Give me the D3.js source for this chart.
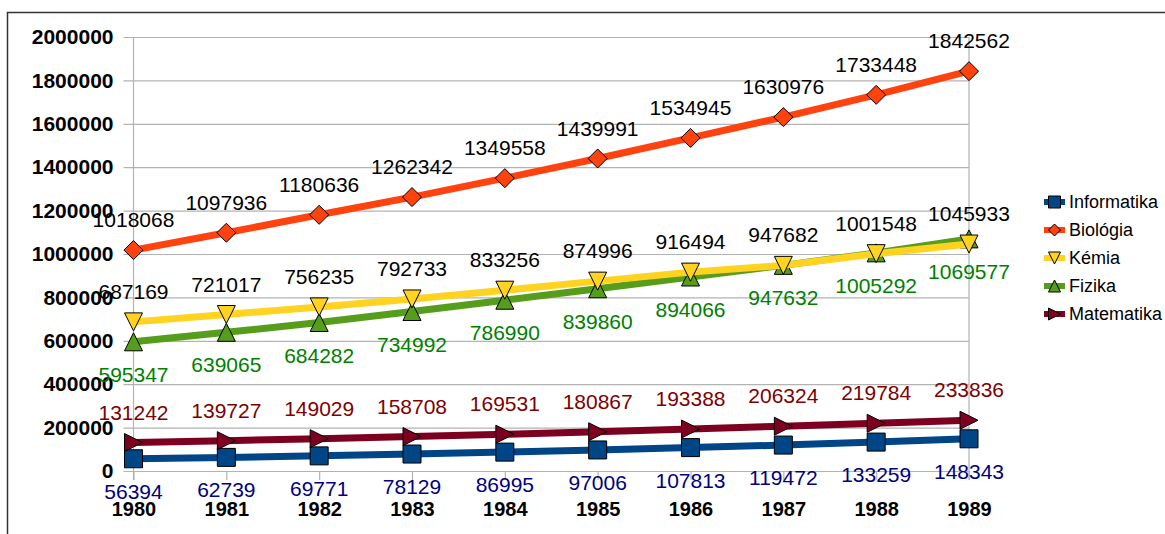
<!DOCTYPE html>
<html>
<head>
<meta charset="utf-8">
<script src="https://cdn.jsdelivr.net/npm/d3@7"></script>
<style>
  body { margin: 0; background: #fff; }
  svg { display: block; font-family: "Liberation Sans", Arial, sans-serif; }
</style>
</head>
<body>
<div id="chart"></div>
<script>
// data
var years = ["1980", "1981", "1982", "1983", "1984", "1985", "1986", "1987", "1988", "1989"];
var informatika = [56394, 62739, 69771, 78129, 86995, 97006, 107813, 119472, 133259, 148343];
var biologia = [1018068, 1097936, 1180636, 1262342, 1349558, 1439991, 1534945, 1630976, 1733448, 1842562];
var kemia = [687169, 721017, 756235, 792733, 833256, 874996, 916494, 947682, 1001548, 1045933];
var fizika = [595347, 639065, 684282, 734992, 786990, 839860, 894066, 947632, 1005292, 1069577];
var matematika = [131242, 139727, 149029, 158708, 169531, 180867, 193388, 206324, 219784, 233836];
var yTicks = [0, 200000, 400000, 600000, 800000, 1000000, 1200000, 1400000, 1600000, 1800000, 2000000];

var series = [
  { name: "Informatika", values: informatika, color: "#004586", marker: "square", labelColor: "#000080", labelPos: "below" },
  { name: "Biológia", values: biologia, color: "#ff420e", marker: "diamond", labelColor: "#000000", labelPos: "above" },
  { name: "Kémia", values: kemia, color: "#ffd320", marker: "down", labelColor: "#000000", labelPos: "above" },
  { name: "Fizika", values: fizika, color: "#579d1c", marker: "up", labelColor: "#008000", labelPos: "below" },
  { name: "Matematika", values: matematika, color: "#7e0021", marker: "right", labelColor: "#800000", labelPos: "above" }
];
// drawing order (yellow sits on top of green in the original)
var drawOrder = [0, 1, 3, 2, 4];

var W = 1165, H = 534;
var plot = { left: 133.5, right: 969, top: 37, bottom: 471 };

var svg = d3.select("#chart").append("svg")
  .attr("width", W)
  .attr("height", H);

// outer frame (only top and left edges visible)
svg.append("path")
  .attr("d", "M7.5," + H + "V12.5H" + W)
  .attr("fill", "none")
  .attr("stroke", "#333")
  .attr("stroke-width", 1.5);

var x = d3.scalePoint()
  .domain(years)
  .range([plot.left, plot.right]);

var y = d3.scaleLinear()
  .domain([0, 2000000])
  .range([plot.bottom, plot.top]);

// horizontal grid + y axis
var yAxis = d3.axisLeft(y)
  .tickValues(yTicks)
  .tickSize(-(plot.right - plot.left))
  .tickPadding(20)
  .tickFormat(d3.format("d"));

var gy = svg.append("g")
  .attr("transform", "translate(" + plot.left + ",0)")
  .call(yAxis);
gy.select(".domain").remove();
gy.selectAll(".tick line")
  .attr("x1", -10)
  .attr("stroke", "#b3b3b3")
  .attr("stroke-width", 1.2);
gy.selectAll(".tick text")
  .attr("x", -20)
  .attr("font-size", 21)
  .attr("font-weight", "bold")
  .attr("fill", "#000")
  .attr("font-family", "Liberation Sans, Arial, sans-serif");

// x axis ticks + labels
var xAxis = d3.axisBottom(x).tickSize(9).tickPadding(22);
var gx = svg.append("g")
  .attr("transform", "translate(0," + plot.bottom + ")")
  .call(xAxis);
gx.select(".domain").remove();
gx.selectAll(".tick line")
  .attr("stroke", "#b3b3b3")
  .attr("stroke-width", 1.2);
gx.selectAll(".tick text")
  .attr("dy", "0.68em")
  .attr("font-size", 20)
  .attr("font-weight", "bold")
  .attr("fill", "#000")
  .attr("font-family", "Liberation Sans, Arial, sans-serif");

// left axis line and right border of plot area
svg.append("line")
  .attr("x1", plot.left).attr("x2", plot.left)
  .attr("y1", plot.top).attr("y2", plot.bottom + 9)
  .attr("stroke", "#b3b3b3").attr("stroke-width", 1.2);
svg.append("line")
  .attr("x1", plot.right).attr("x2", plot.right)
  .attr("y1", plot.top).attr("y2", plot.bottom + 9)
  .attr("stroke", "#b3b3b3").attr("stroke-width", 1.2);

// marker shapes
function markerPath(type, s) {
  var h = s / 2;
  if (type === "square") return "M" + (-h) + "," + (-h) + "h" + s + "v" + s + "h" + (-s) + "Z";
  if (type === "diamond") return "M0," + (-h) + "L" + h + ",0L0," + h + "L" + (-h) + ",0Z";
  if (type === "down") return "M" + (-h) + "," + (-h) + "L" + h + "," + (-h) + "L0," + h + "Z";
  if (type === "up") return "M" + (-h) + "," + h + "L" + h + "," + h + "L0," + (-h) + "Z";
  if (type === "right") return "M" + (-h) + "," + (-h) + "L" + h + ",0L" + (-h) + "," + h + "Z";
}

var line = d3.line()
  .x(function (d, i) { return x(years[i]); })
  .y(function (d) { return y(d); });

drawOrder.forEach(function (k) {
  var s = series[k];
  var g = svg.append("g");
  g.append("path")
    .attr("d", line(s.values))
    .attr("fill", "none")
    .attr("stroke", s.color)
    .attr("stroke-width", 7)
    .attr("stroke-linejoin", "round");
  g.selectAll("path.mk")
    .data(s.values)
    .enter()
    .append("path")
    .attr("class", "mk")
    .attr("transform", function (d, i) { return "translate(" + x(years[i]) + "," + y(d) + ")"; })
    .attr("d", markerPath(s.marker, s.marker === "diamond" ? 19 : 18))
    .attr("fill", s.color)
    .attr("stroke", "#000")
    .attr("stroke-width", 1);
});

// data labels
series.forEach(function (s) {
  svg.append("g").selectAll("text")
    .data(s.values)
    .enter()
    .append("text")
    .attr("x", function (d, i) { return x(years[i]); })
    .attr("y", function (d) { return s.labelPos === "above" ? y(d) - 23 : y(d) + 40; })
    .attr("text-anchor", "middle")
    .attr("font-size", 21)
    .attr("fill", s.labelColor)
    .text(function (d) { return d; });
});

// legend
var legend = svg.append("g").attr("transform", "translate(1044,202)");
var rows = legend.selectAll("g")
  .data(series)
  .enter()
  .append("g")
  .attr("transform", function (d, i) { return "translate(0," + (i * 28) + ")"; });
rows.append("line")
  .attr("x1", 0).attr("x2", 21)
  .attr("stroke", function (d) { return d.color; })
  .attr("stroke-width", 6);
rows.append("path")
  .attr("transform", "translate(10.5,0)")
  .attr("d", function (d) { return markerPath(d.marker, 12); })
  .attr("fill", function (d) { return d.color; })
  .attr("stroke", "#000")
  .attr("stroke-width", 1);
rows.append("text")
  .attr("x", 25)
  .attr("y", 6)
  .attr("font-size", 18)
  .attr("fill", "#000")
  .text(function (d) { return d.name; });
</script>
</body>
</html>
